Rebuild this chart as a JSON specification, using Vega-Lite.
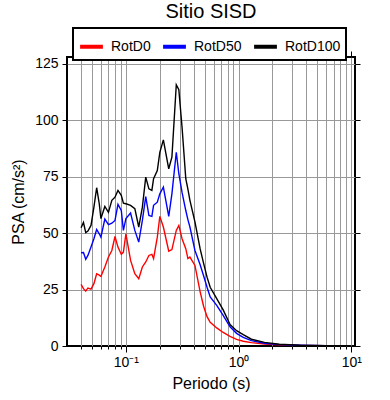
{
  "$schema": "https://vega.github.io/schema/vega-lite/v6.json",
  "width": 288,
  "height": 289,
  "autosize": "none",
  "padding": {"left": 67, "top": 57, "right": 35, "bottom": 54},
  "title": {"text": "Sitio SISD", "fontSize": 20, "font": "Liberation Sans", "fontWeight": "normal", "anchor": "middle", "offset": 5, "color": "black"},
  "datasets": {
    "psa": [
      {"T": 0.040, "s": "RotD0", "v": 27.3}, {"T": 0.040, "s": "RotD50", "v": 41.3}, {"T": 0.040, "s": "RotD100", "v": 52.4},
      {"T": 0.042, "s": "RotD0", "v": 25.4}, {"T": 0.042, "s": "RotD50", "v": 41.4}, {"T": 0.042, "s": "RotD100", "v": 54.7},
      {"T": 0.044, "s": "RotD0", "v": 24.3}, {"T": 0.044, "s": "RotD50", "v": 38.4}, {"T": 0.044, "s": "RotD100", "v": 50.2},
      {"T": 0.046, "s": "RotD0", "v": 25.7}, {"T": 0.046, "s": "RotD50", "v": 40.1}, {"T": 0.046, "s": "RotD100", "v": 50.9},
      {"T": 0.049, "s": "RotD0", "v": 25.2}, {"T": 0.049, "s": "RotD50", "v": 43.8}, {"T": 0.049, "s": "RotD100", "v": 53.4},
      {"T": 0.052, "s": "RotD0", "v": 27.6}, {"T": 0.052, "s": "RotD50", "v": 47.5}, {"T": 0.052, "s": "RotD100", "v": 61.5},
      {"T": 0.055, "s": "RotD0", "v": 32.0}, {"T": 0.055, "s": "RotD50", "v": 51.6}, {"T": 0.055, "s": "RotD100", "v": 70.1},
      {"T": 0.058, "s": "RotD0", "v": 31.4}, {"T": 0.058, "s": "RotD50", "v": 49.7}, {"T": 0.058, "s": "RotD100", "v": 63.0},
      {"T": 0.060, "s": "RotD0", "v": 30.8}, {"T": 0.060, "s": "RotD50", "v": 48.2}, {"T": 0.060, "s": "RotD100", "v": 56.4},
      {"T": 0.065, "s": "RotD0", "v": 35.0}, {"T": 0.065, "s": "RotD50", "v": 56.2}, {"T": 0.065, "s": "RotD100", "v": 61.8},
      {"T": 0.070, "s": "RotD0", "v": 39.4}, {"T": 0.070, "s": "RotD50", "v": 53.8}, {"T": 0.070, "s": "RotD100", "v": 59.2},
      {"T": 0.075, "s": "RotD0", "v": 42.3}, {"T": 0.075, "s": "RotD50", "v": 54.4}, {"T": 0.075, "s": "RotD100", "v": 64.5},
      {"T": 0.080, "s": "RotD0", "v": 48.5}, {"T": 0.080, "s": "RotD50", "v": 55.6}, {"T": 0.080, "s": "RotD100", "v": 65.9},
      {"T": 0.085, "s": "RotD0", "v": 43.8}, {"T": 0.085, "s": "RotD50", "v": 62.7}, {"T": 0.085, "s": "RotD100", "v": 68.9},
      {"T": 0.091, "s": "RotD0", "v": 40.6}, {"T": 0.091, "s": "RotD50", "v": 60.0}, {"T": 0.091, "s": "RotD100", "v": 66.7},
      {"T": 0.095, "s": "RotD0", "v": 41.6}, {"T": 0.095, "s": "RotD50", "v": 51.2}, {"T": 0.095, "s": "RotD100", "v": 63.3},
      {"T": 0.100, "s": "RotD0", "v": 49.7}, {"T": 0.100, "s": "RotD50", "v": 56.4}, {"T": 0.100, "s": "RotD100", "v": 63.0},
      {"T": 0.110, "s": "RotD0", "v": 37.9}, {"T": 0.110, "s": "RotD50", "v": 58.9}, {"T": 0.110, "s": "RotD100", "v": 62.3},
      {"T": 0.120, "s": "RotD0", "v": 32.0}, {"T": 0.120, "s": "RotD50", "v": 51.2}, {"T": 0.120, "s": "RotD100", "v": 60.8},
      {"T": 0.130, "s": "RotD0", "v": 29.8}, {"T": 0.130, "s": "RotD50", "v": 46.0}, {"T": 0.130, "s": "RotD100", "v": 52.7},
      {"T": 0.140, "s": "RotD0", "v": 35.0}, {"T": 0.140, "s": "RotD50", "v": 55.6}, {"T": 0.140, "s": "RotD100", "v": 61.5},
      {"T": 0.150, "s": "RotD0", "v": 37.2}, {"T": 0.150, "s": "RotD50", "v": 66.2}, {"T": 0.150, "s": "RotD100", "v": 74.8},
      {"T": 0.160, "s": "RotD0", "v": 40.1}, {"T": 0.160, "s": "RotD50", "v": 57.8}, {"T": 0.160, "s": "RotD100", "v": 69.6},
      {"T": 0.170, "s": "RotD0", "v": 40.6}, {"T": 0.170, "s": "RotD50", "v": 57.4}, {"T": 0.170, "s": "RotD100", "v": 68.9},
      {"T": 0.176, "s": "RotD0", "v": 38.7}, {"T": 0.176, "s": "RotD50", "v": 62.3}, {"T": 0.176, "s": "RotD100", "v": 74.1},
      {"T": 0.190, "s": "RotD0", "v": 48.2}, {"T": 0.190, "s": "RotD50", "v": 63.7}, {"T": 0.190, "s": "RotD100", "v": 77.7},
      {"T": 0.200, "s": "RotD0", "v": 57.4}, {"T": 0.200, "s": "RotD50", "v": 67.4}, {"T": 0.200, "s": "RotD100", "v": 85.8},
      {"T": 0.215, "s": "RotD0", "v": 52.7}, {"T": 0.215, "s": "RotD50", "v": 70.4}, {"T": 0.215, "s": "RotD100", "v": 91.3},
      {"T": 0.240, "s": "RotD0", "v": 42.0}, {"T": 0.240, "s": "RotD50", "v": 57.4}, {"T": 0.240, "s": "RotD100", "v": 78.5},
      {"T": 0.256, "s": "RotD0", "v": 42.7}, {"T": 0.256, "s": "RotD50", "v": 67.4}, {"T": 0.256, "s": "RotD100", "v": 83.6},
      {"T": 0.280, "s": "RotD0", "v": 51.2}, {"T": 0.280, "s": "RotD50", "v": 85.8}, {"T": 0.280, "s": "RotD100", "v": 115.7},
      {"T": 0.295, "s": "RotD0", "v": 53.4}, {"T": 0.295, "s": "RotD50", "v": 76.3}, {"T": 0.295, "s": "RotD100", "v": 113.5},
      {"T": 0.315, "s": "RotD0", "v": 47.5}, {"T": 0.315, "s": "RotD50", "v": 68.0}, {"T": 0.315, "s": "RotD100", "v": 96.9},
      {"T": 0.340, "s": "RotD0", "v": 43.1}, {"T": 0.340, "s": "RotD50", "v": 60.0}, {"T": 0.340, "s": "RotD100", "v": 74.1},
      {"T": 0.355, "s": "RotD0", "v": 38.7}, {"T": 0.355, "s": "RotD50", "v": 56.0}, {"T": 0.355, "s": "RotD100", "v": 69.5},
      {"T": 0.370, "s": "RotD0", "v": 39.4}, {"T": 0.370, "s": "RotD50", "v": 52.7}, {"T": 0.370, "s": "RotD100", "v": 64.5},
      {"T": 0.410, "s": "RotD0", "v": 35.7}, {"T": 0.410, "s": "RotD50", "v": 42.3}, {"T": 0.410, "s": "RotD100", "v": 55.0},
      {"T": 0.456, "s": "RotD0", "v": 24.0}, {"T": 0.456, "s": "RotD50", "v": 36.0}, {"T": 0.456, "s": "RotD100", "v": 43.0},
      {"T": 0.490, "s": "RotD0", "v": 17.5}, {"T": 0.490, "s": "RotD50", "v": 31.0}, {"T": 0.490, "s": "RotD100", "v": 36.5},
      {"T": 0.525, "s": "RotD0", "v": 13.0}, {"T": 0.525, "s": "RotD50", "v": 26.0}, {"T": 0.525, "s": "RotD100", "v": 30.5},
      {"T": 0.560, "s": "RotD0", "v": 10.5}, {"T": 0.560, "s": "RotD50", "v": 21.7}, {"T": 0.560, "s": "RotD100", "v": 26.0},
      {"T": 0.640, "s": "RotD0", "v": 8.0}, {"T": 0.640, "s": "RotD50", "v": 18.0}, {"T": 0.640, "s": "RotD100", "v": 21.0},
      {"T": 0.730, "s": "RotD0", "v": 6.0}, {"T": 0.730, "s": "RotD50", "v": 13.6}, {"T": 0.730, "s": "RotD100", "v": 16.0},
      {"T": 0.840, "s": "RotD0", "v": 4.3}, {"T": 0.840, "s": "RotD50", "v": 8.5}, {"T": 0.840, "s": "RotD100", "v": 9.5},
      {"T": 0.960, "s": "RotD0", "v": 2.9}, {"T": 0.960, "s": "RotD50", "v": 5.6}, {"T": 0.960, "s": "RotD100", "v": 6.8},
      {"T": 1.10, "s": "RotD0", "v": 2.1}, {"T": 1.10, "s": "RotD50", "v": 3.8}, {"T": 1.10, "s": "RotD100", "v": 5.0},
      {"T": 1.30, "s": "RotD0", "v": 1.5}, {"T": 1.30, "s": "RotD50", "v": 2.4}, {"T": 1.30, "s": "RotD100", "v": 3.0},
      {"T": 1.70, "s": "RotD0", "v": 0.9}, {"T": 1.70, "s": "RotD50", "v": 1.2}, {"T": 1.70, "s": "RotD100", "v": 1.6},
      {"T": 2.30, "s": "RotD0", "v": 0.5}, {"T": 2.30, "s": "RotD50", "v": 0.6}, {"T": 2.30, "s": "RotD100", "v": 0.8},
      {"T": 3.50, "s": "RotD0", "v": 0.25}, {"T": 3.50, "s": "RotD50", "v": 0.3}, {"T": 3.50, "s": "RotD100", "v": 0.35},
      {"T": 6.00, "s": "RotD0", "v": 0.12}, {"T": 6.00, "s": "RotD50", "v": 0.15}, {"T": 6.00, "s": "RotD100", "v": 0.15},
      {"T": 10.0, "s": "RotD0", "v": 0.05}, {"T": 10.0, "s": "RotD50", "v": 0.07}, {"T": 10.0, "s": "RotD100", "v": 0.08}
    ]
  },
  "data": {"name": "psa"},
  "config": {
    "view": {"stroke": "black", "strokeWidth": 2},
    "font": "Liberation Sans",
    "axis": {
      "domain": false,
      "tickColor": "black",
      "tickWidth": 1,
      "gridColor": "#999999",
      "gridWidth": 1,
      "labelColor": "black",
      "titleColor": "black",
      "labelFont": "Liberation Sans",
      "titleFont": "Liberation Sans",
      "labelFontSize": 14,
      "titleFontSize": 16,
      "titleFontWeight": "normal"
    }
  },
  "layer": [
    {
      "mark": {"type": "line", "strokeWidth": 1.4, "clip": true},
      "encoding": {
        "x": {
          "field": "T", "type": "quantitative",
          "scale": {"type": "log", "domain": [0.03, 10.8], "nice": false},
          "axis": {
            "orient": "bottom",
            "title": "Periodo (s)",
            "values": [0.04, 0.05, 0.06, 0.07, 0.08, 0.09, 0.1, 0.2, 0.3, 0.4, 0.5, 0.6, 0.7, 0.8, 0.9, 1, 2, 3, 4, 5, 6, 7, 8, 9, 10],
            "labelExpr": "datum.value == 0.1 ? '10⁻¹' : datum.value == 1 ? '10⁰' : datum.value == 10 ? '10¹' : ''",
            "tickSize": {"condition": {"test": "datum.value == 0.1 || datum.value == 1 || datum.value == 10", "value": 6}, "value": 3},
            "labelPadding": 3,
            "titlePadding": 6,
            "grid": true,
            "labelFlush": false,
            "labelOverlap": false
          }
        },
        "y": {
          "field": "v", "type": "quantitative",
          "scale": {"domain": [0, 128], "nice": false},
          "axis": {
            "orient": "left",
            "title": "PSA (cm/s²)",
            "values": [0, 25, 50, 75, 100, 125],
            "tickSize": 5,
            "labelPadding": 4,
            "titlePadding": 8,
            "grid": true,
            "gridOpacity": {"condition": {"test": "datum.value == 0", "value": 0}, "value": 1}
          }
        },
        "color": {
          "field": "s", "type": "nominal",
          "scale": {"domain": ["RotD0", "RotD50", "RotD100"], "range": ["#ff0000", "#0000ff", "#000000"]},
          "legend": {
            "orient": "none",
            "legendX": 6,
            "legendY": -29,
            "direction": "horizontal",
            "title": null,
            "strokeColor": "black",
            "fillColor": "white",
            "padding": 5,
            "symbolType": "stroke",
            "symbolSize": 520,
            "symbolStrokeWidth": 4,
            "labelFontSize": 14,
            "labelFont": "Liberation Sans",
            "labelColor": "black",
            "labelOffset": 6,
            "columnPadding": 4,
            "encode": {"legend": {"update": {"strokeWidth": {"value": 2}}}}
          }
        }
      }
    },
    {
      "mark": {"type": "line", "opacity": 0},
      "encoding": {
        "x": {
          "field": "T", "type": "quantitative",
          "axis": {
            "orient": "top",
            "title": null,
            "labels": false,
            "grid": false,
            "values": [0.04, 0.05, 0.06, 0.07, 0.08, 0.09, 0.1, 0.2, 0.3, 0.4, 0.5, 0.6, 0.7, 0.8, 0.9, 1, 2, 3, 4, 5, 6, 7, 8, 9, 10],
            "tickSize": {"condition": {"test": "datum.value == 0.1 || datum.value == 1 || datum.value == 10", "value": 6}, "value": 3}
          }
        },
        "y": {
          "field": "v", "type": "quantitative",
          "axis": {
            "orient": "right",
            "title": null,
            "labels": false,
            "grid": false,
            "values": [0, 25, 50, 75, 100, 125],
            "tickSize": 5
          }
        },
        "detail": {"field": "s"}
      }
    }
  ],
  "resolve": {"axis": {"x": "independent", "y": "independent"}}
}
